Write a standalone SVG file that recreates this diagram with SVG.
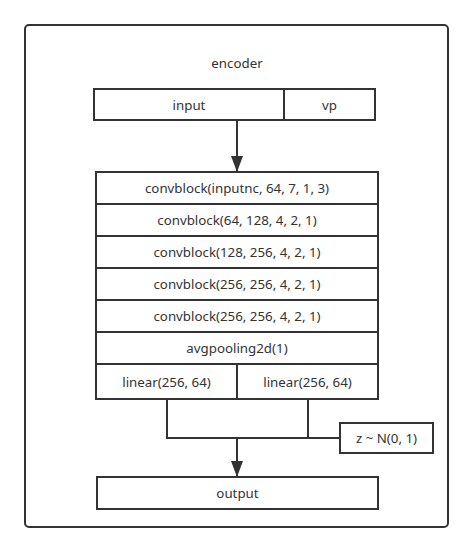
<svg xmlns="http://www.w3.org/2000/svg" width="473" height="553" viewBox="0 0 473 553">
<style>
.b{fill:#fff;stroke:#333;stroke-width:2}
.t{font-family:"Noto Sans","Open Sans",sans-serif;font-size:13.3px;fill:#333;text-anchor:middle;dominant-baseline:central}
.c{fill:none;stroke:#333;stroke-width:2}
</style>
<defs>
<marker id="ah" markerWidth="16" markerHeight="12" refX="16" refY="6" orient="auto" markerUnits="userSpaceOnUse" viewBox="0 0 16 12">
<path d="M0,0 L16,6 L0,12 Z" fill="#333"/>
</marker>
</defs>
<rect width="473" height="553" fill="#fff"/>
<g id="frame"><rect x="25" y="25" width="423" height="502" rx="4" fill="#fff" stroke="#333" stroke-width="2"/>
<text class="t" x="237" y="63">encoder</text></g>
<g id="input"><rect class="b" x="94" y="89" width="190" height="31"/><text class="t" x="189" y="104.5">input</text></g>
<g id="vp"><rect class="b" x="284" y="89" width="91" height="31"/><text class="t" x="329.5" y="104.5">vp</text></g>
<g id="conv1"><rect class="b" x="96" y="172" width="282" height="32"/><text class="t" x="237" y="188">convblock(inputnc, 64, 7, 1, 3)</text></g>
<g id="conv2"><rect class="b" x="96" y="204" width="282" height="32"/><text class="t" x="237" y="220">convblock(64, 128, 4, 2, 1)</text></g>
<g id="conv3"><rect class="b" x="96" y="236" width="282" height="32"/><text class="t" x="237" y="252">convblock(128, 256, 4, 2, 1)</text></g>
<g id="conv4"><rect class="b" x="96" y="268" width="282" height="32"/><text class="t" x="237" y="284">convblock(256, 256, 4, 2, 1)</text></g>
<g id="conv5"><rect class="b" x="96" y="300" width="282" height="32"/><text class="t" x="237" y="316">convblock(256, 256, 4, 2, 1)</text></g>
<g id="avgpool"><rect class="b" x="96" y="332" width="282" height="32"/><text class="t" x="237" y="348">avgpooling2d(1)</text></g>
<g id="linear1"><rect class="b" x="96" y="364" width="141" height="35"/><text class="t" x="166.5" y="381.5">linear(256, 64)</text></g>
<g id="linear2"><rect class="b" x="237" y="364" width="141" height="35"/><text class="t" x="307.5" y="381.5">linear(256, 64)</text></g>
<g id="z"><rect class="b" x="340" y="423" width="93" height="30"/><text class="t" x="386.5" y="438">z ~ N(0, 1)</text></g>
<g id="output"><rect class="b" x="97" y="477" width="281" height="32"/><text class="t" x="237.5" y="493">output</text></g>
<g id="connectors">
<path class="c" d="M237,120 V172" marker-end="url(#ah)"/>
<path class="c" d="M167,399 V438 H340"/>
<path class="c" d="M308,399 V438"/>
<path class="c" d="M237,438 V477" marker-end="url(#ah)"/>
</g>
</svg>
